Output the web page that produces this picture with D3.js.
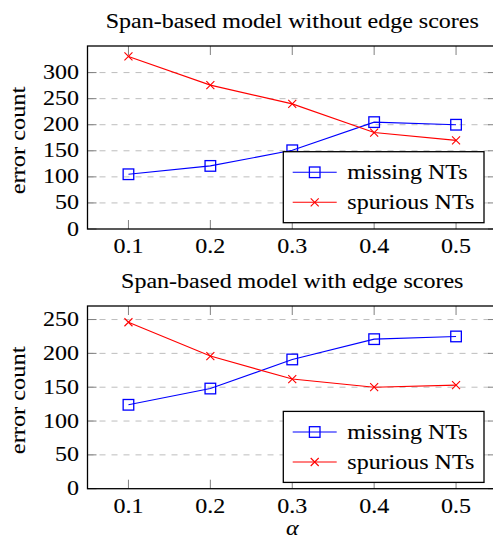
<!DOCTYPE html>
<html>
<head>
<meta charset="utf-8">
<script src="https://cdn.jsdelivr.net/npm/d3@7"></script>
<style>
  body { margin: 0; background: #fff; }
</style>
</head>
<body>
<svg id="chart" width="493" height="540"></svg>
<script>
// data
var alphas = [0.1, 0.2, 0.3, 0.4, 0.5];
var alphaLabels = ["0.1", "0.2", "0.3", "0.4", "0.5"];
var missingNoEdge = [105, 121, 151, 205, 200];
var spuriousNoEdge = [331, 276, 240, 185, 170];
var missingEdge = [124, 148, 191, 221, 225];
var spuriousEdge = [246, 196, 162, 150, 153];
var yTicksTop = [0, 50, 100, 150, 200, 250, 300];
var yTicksBottom = [0, 50, 100, 150, 200, 250];
var seriesNames = ["missing NTs", "spurious NTs"];
var titles = ["Span-based model without edge scores", "Span-based model with edge scores"];

var svg = d3.select("#chart");
var font = "'Liberation Serif', 'Times New Roman', Times, serif";
var sx = 1.2;   // glyphs in the reference are wider than Liberation Serif
var fs = 20;

function label(g, x, y, str, anchor) {
  return g.append("text")
    .attr("transform", "translate(" + x + "," + y + ") scale(" + sx + ",1)")
    .attr("text-anchor", anchor || "start")
    .attr("font-family", font)
    .attr("font-size", fs)
    .attr("fill", "#000")
    .attr("stroke", "#000").attr("stroke-width", 0.1)
    .text(str);
}

function panel(opts) {
  var left = 87.5, right = 497, top = opts.top, bottom = opts.bottom;
  var x = d3.scaleLinear().domain([0.05, 0.55]).range([left, right]);
  var y = d3.scaleLinear().domain([0, opts.ymax]).range([bottom, top]);
  var g = svg.append("g");

  // dashed grid
  g.selectAll(".grid").data(opts.yTicks.filter(function(d) { return d > 0; }))
    .enter().append("line")
      .attr("x1", left).attr("x2", right)
      .attr("y1", function(d) { return y(d); })
      .attr("y2", function(d) { return y(d); })
      .attr("stroke", "#bdbdbd").attr("stroke-width", 1)
      .attr("stroke-dasharray", "6,6");

  // inner ticks
  var tick = 9;
  alphas.forEach(function(a) {
    g.append("line").attr("x1", x(a)).attr("x2", x(a))
      .attr("y1", bottom).attr("y2", bottom - tick)
      .attr("stroke", "#808080").attr("stroke-width", 1);
    g.append("line").attr("x1", x(a)).attr("x2", x(a))
      .attr("y1", top).attr("y2", top + tick)
      .attr("stroke", "#808080").attr("stroke-width", 1);
  });
  opts.yTicks.forEach(function(t) {
    g.append("line").attr("x1", left).attr("x2", left + tick)
      .attr("y1", y(t)).attr("y2", y(t))
      .attr("stroke", "#808080").attr("stroke-width", 1);
    g.append("line").attr("x1", right).attr("x2", right - tick)
      .attr("y1", y(t)).attr("y2", y(t))
      .attr("stroke", "#808080").attr("stroke-width", 1);
  });

  // frame
  g.append("rect")
    .attr("x", left).attr("y", top)
    .attr("width", right - left).attr("height", bottom - top)
    .attr("fill", "none").attr("stroke", "#000").attr("stroke-width", 1.3);

  // tick labels
  opts.yTicks.forEach(function(t) {
    label(g, 79, y(t) + 6.5, String(t), "end");
  });
  alphas.forEach(function(a, i) {
    label(g, x(a), bottom + 24, alphaLabels[i], "middle");
  });

  // title and y label
  label(g, (left + right) / 2, top - 18, opts.title, "middle");
  g.append("text")
    .attr("transform", "translate(25," + ((top + bottom) / 2 + 3) + ") rotate(-90) scale(1.22,1)")
    .attr("text-anchor", "middle")
    .attr("font-family", font)
    .attr("font-size", fs)
    .attr("stroke", "#000").attr("stroke-width", 0.1)
    .text("error count");

  var line = d3.line()
    .x(function(d, i) { return x(alphas[i]); })
    .y(function(d) { return y(d); });

  // missing NTs
  g.append("path").datum(opts.missing)
    .attr("d", line).attr("fill", "none")
    .attr("stroke", "#0000ff").attr("stroke-width", 1.1);
  g.selectAll(".sq").data(opts.missing).enter().append("rect")
    .attr("x", function(d, i) { return x(alphas[i]) - 5.3; })
    .attr("y", function(d) { return y(d) - 5.3; })
    .attr("width", 10.6).attr("height", 10.6)
    .attr("fill", "none").attr("stroke", "#0000ff").attr("stroke-width", 1.3);

  // spurious NTs
  g.append("path").datum(opts.spurious)
    .attr("d", line).attr("fill", "none")
    .attr("stroke", "#ff0000").attr("stroke-width", 1.1);
  g.selectAll(".cx").data(opts.spurious).enter().append("path")
    .attr("transform", function(d, i) { return "translate(" + x(alphas[i]) + "," + y(d) + ")"; })
    .attr("d", "M-4,-4L4,4M-4,4L4,-4")
    .attr("fill", "none").attr("stroke", "#ff0000").attr("stroke-width", 1.1);

  // legend
  var lw = 200.7, lh = 71;
  var lx = right - 13 - lw, ly = bottom - 6.3 - lh;
  var lg = g.append("g").attr("transform", "translate(" + lx + "," + ly + ")");
  lg.append("rect").attr("width", lw).attr("height", lh)
    .attr("fill", "#fff").attr("stroke", "#000").attr("stroke-width", 1.3);
  [0, 1].forEach(function(k) {
    var cy = 20.6 + k * 30;
    var col = k === 0 ? "#0000ff" : "#ff0000";
    lg.append("line").attr("x1", 9.4).attr("x2", 53.4)
      .attr("y1", cy).attr("y2", cy)
      .attr("stroke", col).attr("stroke-width", 1.1);
    if (k === 0) {
      lg.append("rect").attr("x", 31.4 - 5.3).attr("y", cy - 5.3)
        .attr("width", 10.6).attr("height", 10.6)
        .attr("fill", "none").attr("stroke", col).attr("stroke-width", 1.3);
    } else {
      lg.append("path").attr("transform", "translate(31.4," + cy + ")")
        .attr("d", "M-4,-4L4,4M-4,4L4,-4")
        .attr("fill", "none").attr("stroke", col).attr("stroke-width", 1.1);
    }
    label(lg, 64, cy + 6.5, seriesNames[k], "start");
  });

  return x;
}

panel({ top: 46, bottom: 229, ymax: 351, yTicks: yTicksTop,
        missing: missingNoEdge, spurious: spuriousNoEdge, title: titles[0] });
var xb = panel({ top: 306, bottom: 488.7, ymax: 270, yTicks: yTicksBottom,
        missing: missingEdge, spurious: spuriousEdge, title: titles[1] });

svg.append("text")
  .attr("transform", "translate(" + xb(0.3) + ",535) scale(1.2,1)")
  .attr("text-anchor", "middle")
  .attr("font-family", font)
  .attr("font-size", 20)
  .attr("font-style", "italic")
  .attr("stroke", "#000").attr("stroke-width", 0.1)
  .text("α");
</script>
</body>
</html>
